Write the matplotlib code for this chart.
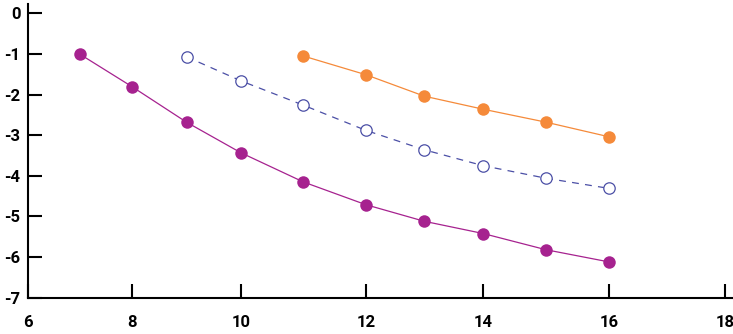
import numpy as np
import matplotlib
matplotlib.use('Agg')
import matplotlib.pyplot as plt

# data
x_purple = [7, 8, 9, 10, 11, 12, 13, 14, 15, 16]
y_purple = [-1.01, -1.81, -2.68, -3.43, -4.15, -4.71, -5.12, -5.42, -5.82, -6.12]

x_open = [9, 10, 11, 12, 13, 14, 15, 16]
y_open = [-1.07, -1.66, -2.26, -2.88, -3.36, -3.75, -4.06, -4.31]

x_orange = [11, 12, 13, 14, 15, 16]
y_orange = [-1.05, -1.51, -2.04, -2.36, -2.68, -3.04]

xticks = [6, 8, 10, 12, 14, 16, 18]
yticks = [0, -1, -2, -3, -4, -5, -6, -7]

# the x axis of the original is not evenly spaced, so map it piecewise
knots = np.array([4, 6, 8, 10, 12, 14, 16, 18, 20])
pos = np.array([-76.3, 28, 132.3, 240.7, 365.7, 483, 609, 724.7, 840.4])

def fwd(v):
    return np.interp(v, knots, pos)

def inv(v):
    return np.interp(v, pos, knots)

plt.rcParams['font.family'] = ['Roboto', 'DejaVu Sans']

fig = plt.figure(figsize=(7.33, 3.34), dpi=100)
ax = fig.add_axes([28 / 733, 36.3 / 334, 705 / 733, 293.7 / 334])

ax.plot(x_purple, y_purple, color='#a6228f', lw=0.9, marker='o', ms=9,
        mfc='#a6228f', mec='#a6228f', mew=0, zorder=3)
ax.plot(x_open, y_open, color='#4b4fa6', lw=0.9, dashes=(5.5, 5), marker='o',
        ms=8.2, mfc='white', mec='#4b4fa6', mew=0.9, zorder=3)
ax.plot(x_orange, y_orange, color='#f58a3a', lw=0.9, marker='o', ms=9,
        mfc='#f58a3a', mec='#f58a3a', mew=0, zorder=3)

ax.set_xscale('function', functions=(fwd, inv))
ax.set_xlim(6, 18.14)
ax.set_ylim(-7, 0.23)
ax.set_xticks(xticks)
ax.set_yticks(yticks)
ax.set_xticklabels([str(t) for t in xticks], fontweight='bold')
ax.set_yticklabels([str(t) for t in yticks], fontweight='bold')

for s in ['top', 'right']:
    ax.spines[s].set_visible(False)
for s in ['left', 'bottom']:
    ax.spines[s].set_linewidth(1.5)

ax.tick_params(axis='both', direction='in', length=10, width=1.5,
               labelsize=12, colors='black')
ax.tick_params(axis='y', pad=5.5)
ax.tick_params(axis='x', pad=12.5)

fig.savefig('out.png', dpi=100)
